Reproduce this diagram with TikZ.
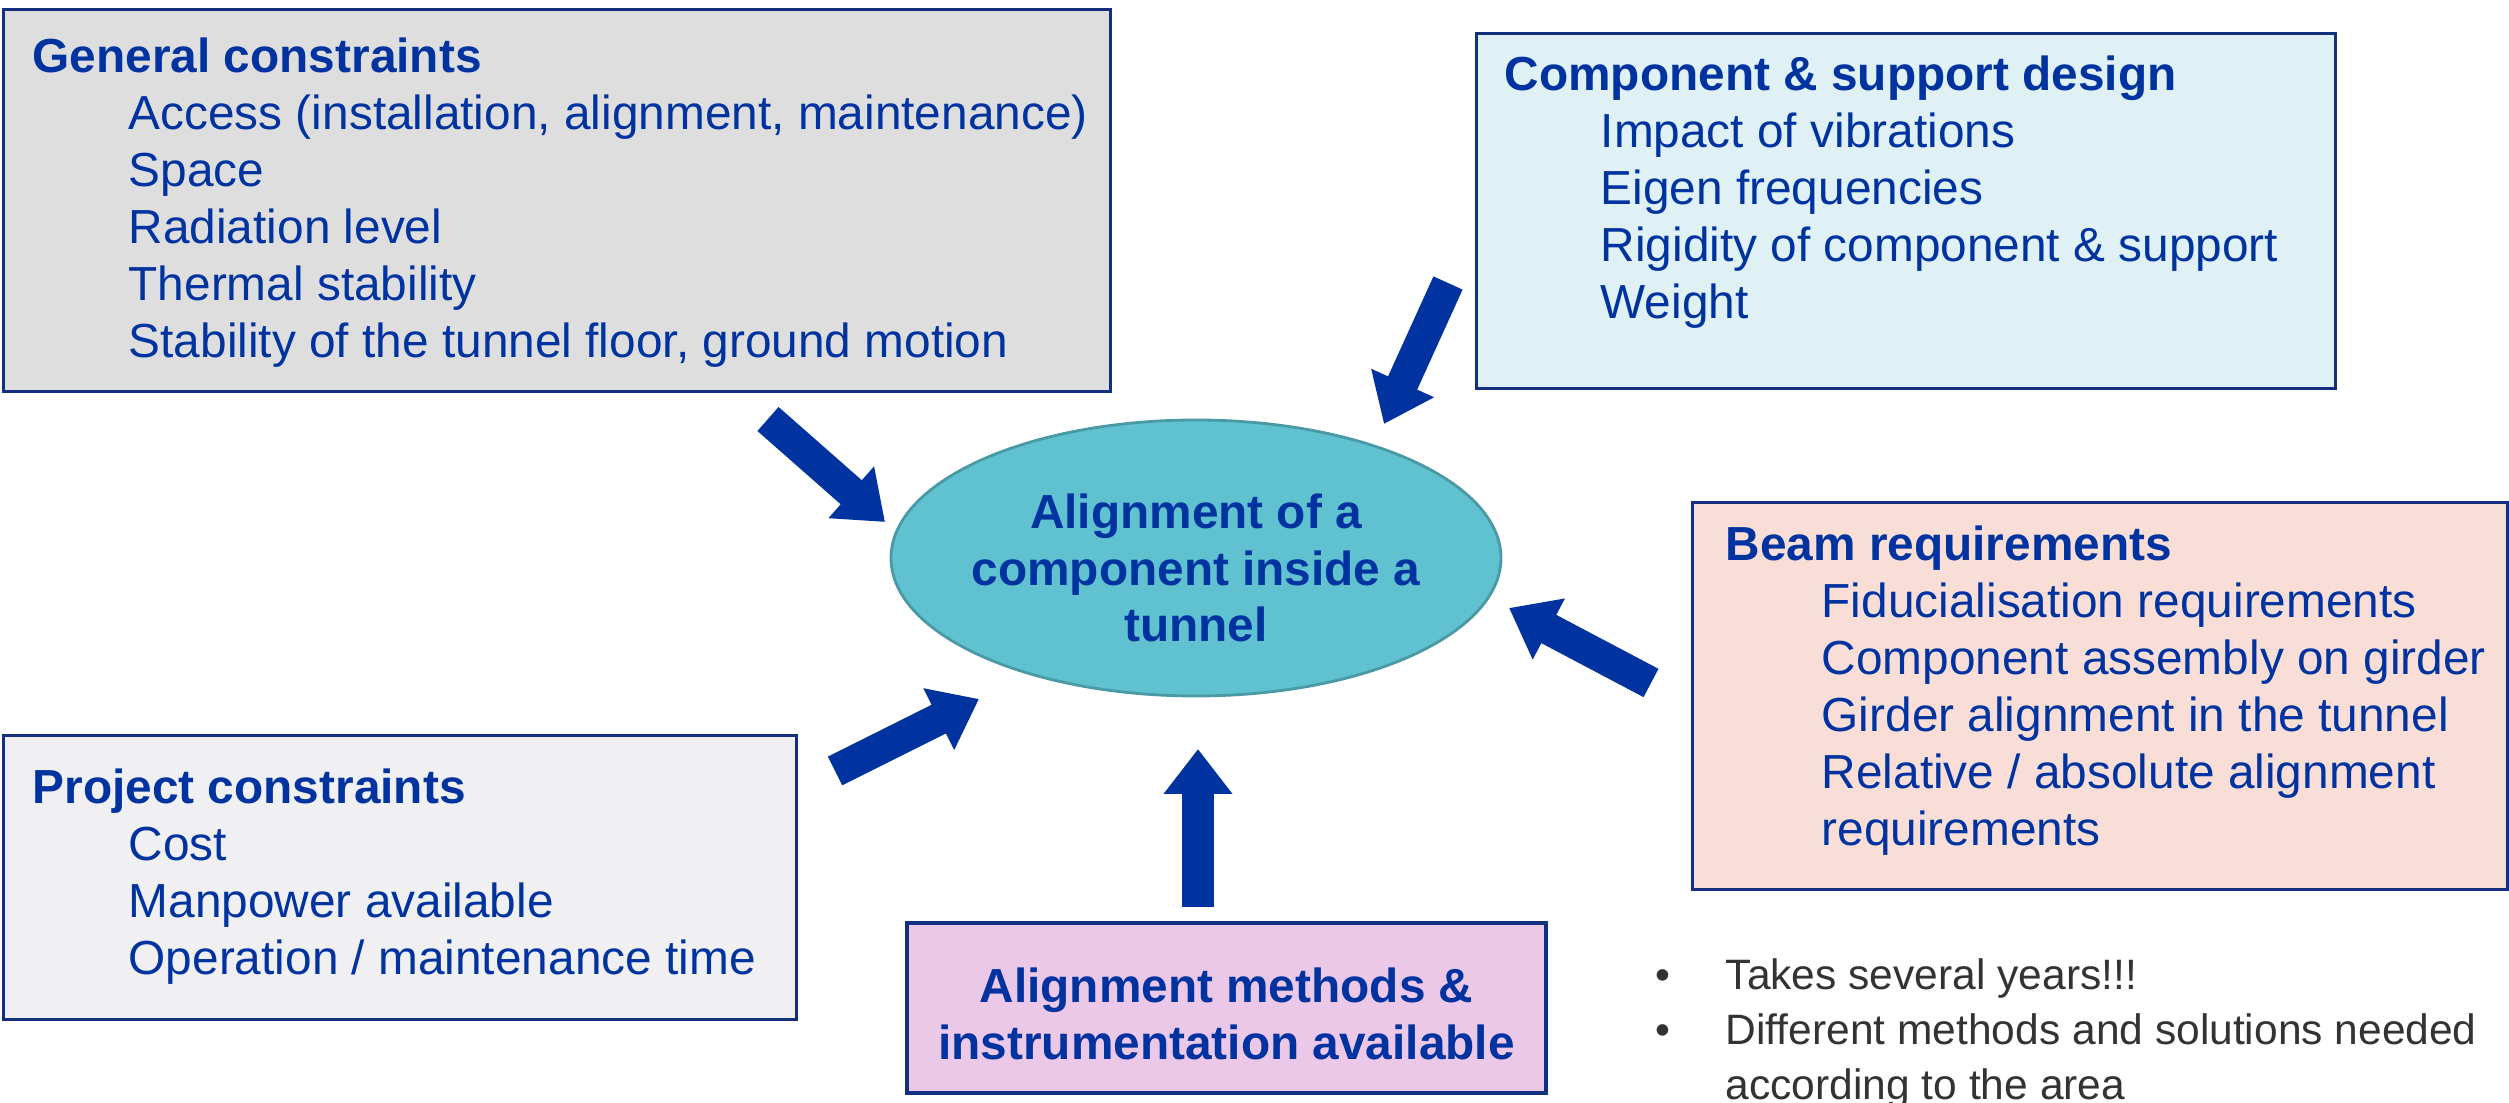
\documentclass[tikz,border=0pt]{standalone}
\usepackage{fontspec}
\setmainfont{Liberation Sans}
\usetikzlibrary{arrows.meta,shapes.geometric}

\definecolor{txtblue}{HTML}{0033A0}
\definecolor{boxline}{HTML}{12307F}
\definecolor{arrowblue}{HTML}{0033A0}
\definecolor{genfill}{HTML}{DEDEDE}
\definecolor{compfill}{HTML}{DFF1F5}
\definecolor{beamfill}{HTML}{F8DED6}
\definecolor{projfill}{HTML}{F0F0F2}
\definecolor{methfill}{HTML}{ECC8E8}
\definecolor{corefill}{HTML}{60C2D0}
\definecolor{coreline}{HTML}{4A9AA6}
\definecolor{notegray}{HTML}{333333}

% indent of the list items inside the boxes
\newcommand{\ind}{\hspace*{0.96cm}}

\tikzset{
  box/.style={draw=boxline, line width=0.9pt, anchor=north west, inner sep=0pt},
  boxtext/.style={anchor=base west, inner sep=0pt, text=txtblue,
    font=\fontsize{13.6}{16.2}\selectfont},
  headtext/.style={align=center, inner sep=0pt, text=txtblue,
    font=\fontsize{13.6}{16.0}\selectfont\bfseries},
  bigarrow/.style={draw=arrowblue, line width=0.32cm,
    -{Triangle[width=0.66cm,length=0.45cm]}}
}

\begin{document}
\begin{tikzpicture}
\useasboundingbox (0,0) rectangle (25.09,11.03);
\fill[white] (0,0) rectangle (25.09,11.03);

% boxes around the centre
\node[box, fill=genfill, minimum width=11.07cm, minimum height=3.82cm] (gen) at (0.02,10.95) {};
\node[box, fill=compfill, minimum width=8.59cm, minimum height=3.55cm] (comp) at (14.75,10.71) {};
\node[box, fill=beamfill, minimum width=8.15cm, minimum height=3.87cm] (beam) at (16.91,6.02) {};
\node[box, fill=projfill, minimum width=7.93cm, minimum height=2.84cm] (proj) at (0.02,3.69) {};

% texts of the boxes
\node[boxtext] (gentxt) at (0.32,10.30) {\begin{tabular}[t]{@{}l@{}}
\textbf{General constraints}\\
\ind Access (installation, alignment, maintenance)\\
\ind Space\\
\ind Radiation level\\
\ind Thermal stability\\
\ind Stability of the tunnel floor, ground motion
\end{tabular}};
\node[boxtext] (comptxt) at (15.04,10.12) {\begin{tabular}[t]{@{}l@{}}
\textbf{Component \& support design}\\
\ind Impact of vibrations\\
\ind Eigen frequencies\\
\ind Rigidity of component \& support\\
\ind Weight
\end{tabular}};
\node[boxtext] (beamtxt) at (17.25,5.42) {\begin{tabular}[t]{@{}l@{}}
\textbf{Beam requirements}\\
\ind Fiducialisation requirements\\
\ind Component assembly on girder\\
\ind Girder alignment in the tunnel\\
\ind Relative / absolute alignment\\
\ind requirements
\end{tabular}};
\node[boxtext] (projtxt) at (0.32,2.99) {\begin{tabular}[t]{@{}l@{}}
\textbf{Project constraints}\\
\ind Cost\\
\ind Manpower available\\
\ind Operation / maintenance time
\end{tabular}};

% the methods box and the centre
\node[draw=boxline, line width=0.9pt, fill=methfill, minimum width=6.39cm, minimum height=1.70cm,
  inner sep=0pt] (meth) at (12.265,0.95) {};
\node[headtext] (methtxt) at ([yshift=-0.06cm]meth.center)
  {Alignment methods \&\\ instrumentation available};
\node[ellipse, draw=coreline, line width=0.8pt, fill=corefill, minimum width=6.1cm, minimum height=2.76cm,
  inner sep=0pt] (core) at (11.96,5.45) {};
\node[headtext] (coretxt) at ([yshift=-0.10cm]core.center)
  {Alignment of a\\ component inside a\\ tunnel};

% block arrows into the centre
\coordinate (g0) at (7.68,6.84);  \coordinate (g1) at (8.85,5.81);
\coordinate (c0) at (14.48,8.20); \coordinate (c1) at (13.84,6.79);
\coordinate (b0) at (16.51,4.20); \coordinate (b1) at (15.09,4.95);
\coordinate (p0) at (8.35,3.32);  \coordinate (p1) at (9.79,4.04);
\coordinate (m0) at (11.98,1.96); \coordinate (m1) at (11.98,3.54);
\draw[bigarrow] (g0) -- (g1);
\draw[bigarrow] (c0) -- (c1);
\draw[bigarrow] (b0) -- (b1);
\draw[bigarrow] (p0) -- (p1);
\draw[bigarrow] (m0) -- (m1);

% notes
\node[anchor=base west, inner sep=0pt, text=notegray, font=\fontsize{12.1}{15.6}\selectfont] (notes) at (16.55,1.13)
  {\begin{tabular}[t]{@{}p{0.70cm}@{}l@{}}
  \textbullet & Takes several years!!!\\
  \textbullet & Different methods and solutions needed\\
   & according to the area
  \end{tabular}};
\end{tikzpicture}
\end{document}
